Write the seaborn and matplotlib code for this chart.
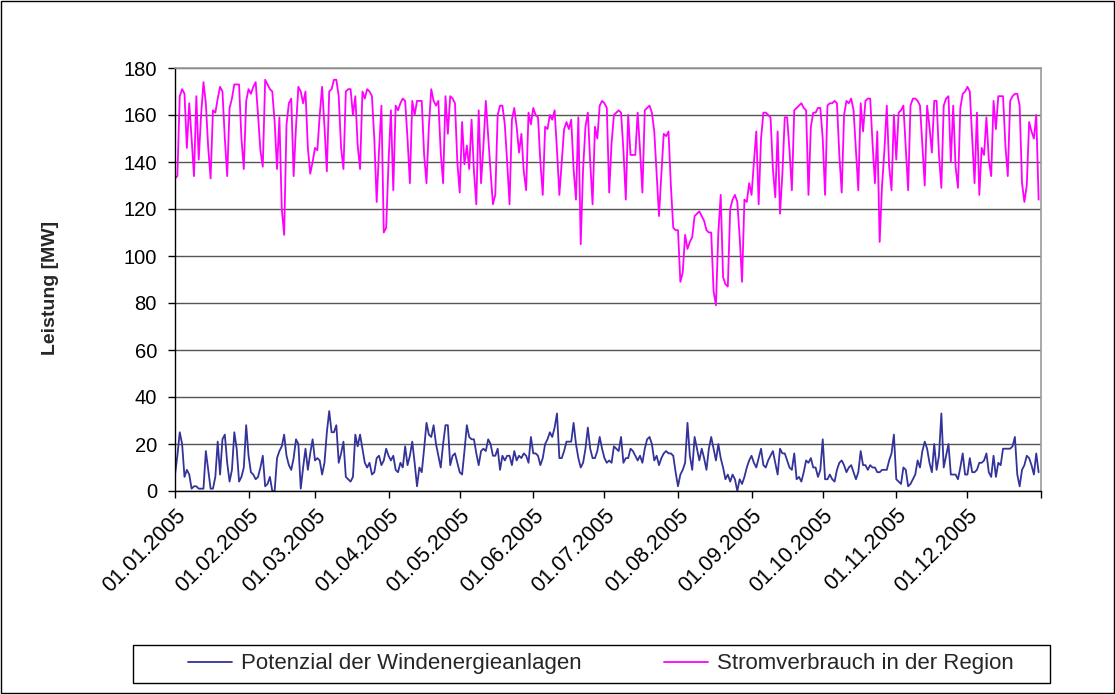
import pandas as pd
import matplotlib
matplotlib.use("Agg")
import matplotlib.pyplot as plt
from matplotlib.patches import Rectangle
import seaborn as sns

# Tageswerte 2005 in MW, Monat fuer Monat
verbrauch_jan = [133, 134, 168, 171, 169, 146, 165, 150, 134, 168, 141, 160, 174, 165, 146, 133,
                 162, 161, 167, 172, 170, 150, 134, 163, 167, 173, 173, 173, 150, 137, 166]
verbrauch_feb = [171, 169, 172, 174, 160, 145, 138, 175, 173, 171, 170, 157, 137, 159, 120, 109,
                 156, 165, 167, 134, 155, 172, 170, 165, 170, 146, 135, 140]
verbrauch_mar = [146, 145, 160, 172, 155, 136, 170, 171, 175, 175, 168, 146, 137, 170, 171, 171,
                 160, 168, 147, 137, 170, 167, 171, 170, 168, 150, 123, 145, 164, 110, 112]
verbrauch_apr = [140, 162, 128, 164, 162, 165, 167, 166, 150, 131, 166, 160, 166, 166, 166, 143,
                 131, 155, 171, 166, 164, 166, 144, 131, 168, 152, 168, 167, 165, 140]
verbrauch_mai = [127, 157, 139, 147, 137, 158, 136, 122, 162, 131, 147, 166, 151, 136, 122, 126,
                 160, 164, 164, 156, 140, 122, 158, 163, 155, 144, 152, 136, 128, 161, 156]
verbrauch_jun = [163, 160, 159, 140, 126, 155, 154, 160, 158, 162, 145, 126, 140, 154, 157, 154,
                 158, 137, 124, 159, 105, 137, 155, 161, 140, 122, 155, 150, 164, 166]
verbrauch_jul = [165, 163, 127, 148, 160, 161, 162, 161, 145, 124, 160, 143, 143, 143, 161, 145,
                 127, 162, 163, 164, 161, 153, 135, 117, 135, 152, 151, 153, 130, 112, 111]
verbrauch_aug = [111, 89, 93, 109, 103, 106, 108, 117, 118, 119, 117, 115, 111, 110, 110, 85,
                 79, 110, 126, 91, 88, 87, 120, 124, 126, 123, 108, 89, 124, 123, 131]
verbrauch_sep = [126, 140, 153, 122, 150, 161, 161, 160, 159, 137, 125, 153, 118, 135, 159, 159,
                 145, 128, 162, 163, 164, 165, 163, 162, 126, 155, 161, 161, 163, 163]
verbrauch_okt = [150, 126, 164, 165, 165, 166, 165, 143, 127, 160, 166, 165, 167, 162, 145, 128,
                 165, 153, 166, 167, 167, 148, 131, 153, 106, 130, 145, 164, 138, 128, 160]
verbrauch_nov = [141, 161, 162, 164, 146, 128, 164, 167, 167, 166, 164, 147, 130, 164, 155, 144,
                 166, 166, 143, 129, 164, 167, 168, 140, 164, 138, 129, 163, 169, 170]
verbrauch_dez = [172, 170, 150, 131, 161, 126, 146, 143, 159, 141, 134, 166, 154, 168, 168, 168,
                 147, 134, 166, 168, 169, 169, 164, 131, 123, 130, 157, 153, 150, 160, 124]

wind_jan = [7, 15, 25, 20, 6, 9, 7, 1, 2, 2, 1, 1, 1, 17, 9, 1,
            1, 6, 21, 7, 22, 24, 12, 4, 9, 25, 18, 4, 6, 10, 28]
wind_feb = [15, 8, 7, 5, 6, 10, 15, 2, 3, 6, 0, 0, 14, 17, 19, 24,
            15, 11, 9, 14, 22, 20, 1, 10, 18, 9, 16, 22]
wind_mar = [13, 14, 13, 7, 12, 25, 34, 25, 25, 28, 12, 16, 21, 6, 5, 4,
            6, 24, 19, 24, 18, 12, 10, 12, 7, 8, 14, 15, 11, 13, 18]
wind_apr = [15, 13, 15, 9, 8, 12, 10, 19, 11, 15, 21, 12, 2, 10, 8, 18,
            29, 24, 23, 28, 20, 15, 10, 20, 28, 28, 11, 15, 16, 12]
wind_mai = [8, 7, 17, 28, 23, 22, 22, 16, 11, 17, 18, 17, 22, 20, 15, 15,
            18, 9, 15, 13, 15, 15, 11, 17, 13, 15, 14, 16, 15, 12, 23]
wind_jun = [16, 16, 15, 11, 14, 20, 22, 25, 23, 27, 33, 14, 14, 17, 21, 21,
            21, 29, 20, 14, 10, 12, 18, 27, 18, 14, 14, 17, 23, 18]
wind_jul = [14, 12, 13, 12, 19, 18, 17, 23, 12, 14, 14, 18, 17, 15, 13, 15,
            12, 18, 22, 23, 20, 13, 15, 11, 14, 16, 17, 16, 16, 15, 8]
wind_aug = [2, 7, 9, 12, 29, 15, 9, 23, 18, 13, 18, 14, 9, 18, 23, 18,
            13, 20, 14, 10, 5, 7, 4, 7, 5, 0, 5, 3, 6, 10, 13]
wind_sep = [15, 12, 10, 14, 18, 11, 10, 13, 15, 17, 12, 7, 18, 16, 16, 13,
            10, 9, 16, 5, 6, 4, 8, 13, 12, 14, 10, 10, 6, 9]
wind_okt = [22, 5, 5, 7, 5, 4, 9, 12, 13, 11, 8, 10, 11, 8, 5, 8,
            17, 11, 11, 9, 11, 10, 10, 8, 8, 9, 9, 9, 13, 16, 24]
wind_nov = [5, 4, 3, 10, 9, 2, 3, 5, 7, 13, 10, 17, 21, 18, 12, 8,
            20, 9, 15, 33, 10, 15, 20, 7, 7, 7, 5, 10, 16, 7]
wind_dez = [7, 14, 8, 8, 9, 12, 12, 13, 16, 8, 6, 15, 6, 12, 11, 18,
            18, 18, 18, 19, 23, 7, 2, 9, 11, 15, 14, 11, 7, 16, 8]

tick_dates = ["2005-01-01", "2005-02-01", "2005-03-01", "2005-04-01", "2005-05-01", "2005-06-01",
              "2005-07-01", "2005-08-01", "2005-09-01", "2005-10-01", "2005-11-01", "2005-12-01",
              "2006-01-01"]
tick_labels = ["01.01.2005", "01.02.2005", "01.03.2005", "01.04.2005", "01.05.2005", "01.06.2005",
               "01.07.2005", "01.08.2005", "01.09.2005", "01.10.2005", "01.11.2005", "01.12.2005", ""]

label_wind = "Potenzial der Windenergieanlagen"
label_verbrauch = "Stromverbrauch in der Region"

verbrauch = (verbrauch_jan + verbrauch_feb + verbrauch_mar + verbrauch_apr + verbrauch_mai + verbrauch_jun
             + verbrauch_jul + verbrauch_aug + verbrauch_sep + verbrauch_okt + verbrauch_nov + verbrauch_dez)
wind = (wind_jan + wind_feb + wind_mar + wind_apr + wind_mai + wind_jun
        + wind_jul + wind_aug + wind_sep + wind_okt + wind_nov + wind_dez)

dates = pd.date_range("2005-01-01", "2005-12-31", freq="D")
df = pd.DataFrame({"Datum": dates, "Wind": wind, "Verbrauch": verbrauch})

sns.set_style("white")
plt.rcParams['font.family'] = ['Liberation Sans', 'DejaVu Sans']

fig = plt.figure(figsize=(11.15, 6.94), dpi=100)
ax = fig.add_axes([175 / 1115, 1 - 491 / 694, 866 / 1115, 423 / 694])

sns.lineplot(data=df, x="Datum", y="Wind", color="#333399", linewidth=1.3, ax=ax, label=label_wind)
sns.lineplot(data=df, x="Datum", y="Verbrauch", color="#FF00FF", linewidth=1.3, ax=ax, label=label_verbrauch)

ax.set_ylim(0, 180)
ax.set_yticks(range(0, 181, 20))
ax.set_xlim(pd.Timestamp("2005-01-01"), pd.Timestamp("2006-01-01"))
ax.set_xticks(pd.to_datetime(tick_dates))
ax.set_xticklabels(tick_labels, rotation=45, ha="right", va="top", rotation_mode="anchor", fontsize=15.5)

ax.yaxis.grid(True, color="#555555", linewidth=1)
ax.xaxis.grid(False)
ax.set_axisbelow(True)

for side in ["left", "bottom"]:
    ax.spines[side].set_color("black")
    ax.spines[side].set_linewidth(1)
for side in ["top", "right"]:
    ax.spines[side].set_color("#999999")
    ax.spines[side].set_linewidth(1.2)

ax.tick_params(axis="both", which="major", direction="out", length=5, width=1,
               color="black", labelcolor="black", left=True, bottom=True)
ax.tick_params(axis="y", pad=8, labelsize=14.5)
ax.tick_params(axis="x", pad=5)

ax.set_xlabel("")
ax.set_ylabel("Leistung [MW]", fontsize=14, fontweight="bold")
ax.yaxis.set_label_coords(-0.134, 0.48)

ax.legend(loc="center", bbox_to_anchor=(601 / 1115, 1 - 664 / 694), bbox_transform=fig.transFigure,
          ncol=2, frameon=False, fontsize=16, handlelength=2.0, handletextpad=0.4, columnspacing=3.7)

# Rahmen der Legende und des Diagrammbereichs
fig.patches.append(Rectangle((133 / 1115, 1 - 683 / 694), 917 / 1115, 38 / 694,
                             transform=fig.transFigure, fill=False, edgecolor="black", linewidth=1))
fig.patches.append(Rectangle((0.001, 0.001), 0.998, 0.998, transform=fig.transFigure,
                             fill=False, edgecolor="black", linewidth=1))

fig.savefig("out.png", dpi=100)
